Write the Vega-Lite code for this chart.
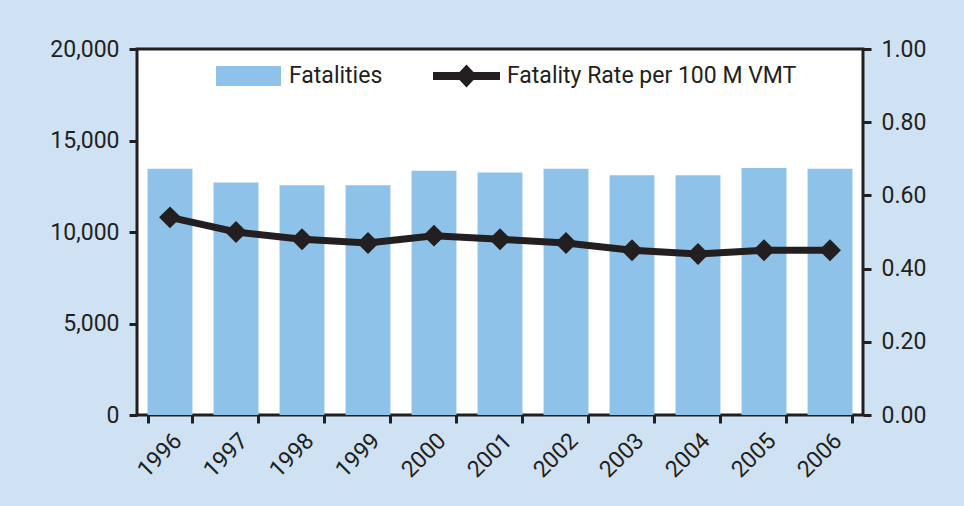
{
  "$schema": "https://vega.github.io/schema/vega-lite/v6.json",
  "width": 726,
  "height": 366,
  "autosize": "none",
  "padding": {"left": 137, "top": 49, "right": 101, "bottom": 91},
  "background": "#cfe2f3",
  "config": {
    "view": {"fill": "#ffffff", "stroke": "#231f20", "strokeWidth": 3},
    "font": "Roboto",
    "axis": {
      "labelFont": "Roboto",
      "labelFontSize": 23,
      "labelColor": "#231f20",
      "tickColor": "#231f20",
      "tickWidth": 3,
      "tickSize": 8,
      "domain": false,
      "grid": false,
      "title": null
    },
    "legend": {
      "labelFont": "Roboto",
      "labelFontSize": 23,
      "labelColor": "#231f20",
      "labelLimit": 600,
      "padding": 0
    }
  },
  "data": {
    "values": [
      {"year": "1996", "fatalities": 13450, "rate": 0.54},
      {"year": "1997", "fatalities": 12700, "rate": 0.50},
      {"year": "1998", "fatalities": 12550, "rate": 0.48},
      {"year": "1999", "fatalities": 12550, "rate": 0.47},
      {"year": "2000", "fatalities": 13350, "rate": 0.49},
      {"year": "2001", "fatalities": 13250, "rate": 0.48},
      {"year": "2002", "fatalities": 13450, "rate": 0.47},
      {"year": "2003", "fatalities": 13100, "rate": 0.45},
      {"year": "2004", "fatalities": 13100, "rate": 0.44},
      {"year": "2005", "fatalities": 13500, "rate": 0.45},
      {"year": "2006", "fatalities": 13450, "rate": 0.45}
    ]
  },
  "encoding": {
    "x": {
      "field": "year",
      "type": "ordinal",
      "scale": {"paddingInner": 0.32, "paddingOuter": 0.16},
      "axis": {
        "labelAngle": -45,
        "tickBand": "extent",
        "labelPadding": 6,
        "zindex": 1,
        "encode": {"ticks": {"update": {"y": {"value": -7}}}}
      }
    }
  },
  "layer": [
    {
      "mark": {"type": "bar"},
      "encoding": {
        "y": {
          "field": "fatalities",
          "type": "quantitative",
          "scale": {"domain": [0, 20000]},
          "axis": {"orient": "left", "values": [0, 5000, 10000, 15000, 20000], "format": ",.0f", "labelPadding": 10}
        },
        "fill": {
          "datum": "Fatalities",
          "type": "nominal",
          "scale": {"range": ["#8ec2e9"]},
          "legend": {
            "orient": "none",
            "legendX": 79,
            "legendY": -5.5,
            "title": null,
            "symbolType": "M-1,-0.31L1,-0.31L1,0.31L-1,0.31Z",
            "symbolSize": 4225,
            "symbolStrokeWidth": 0,
            "labelOffset": 8
          }
        }
      }
    },
    {
      "layer": [
        {
          "mark": {"type": "line", "strokeWidth": 7},
          "encoding": {
            "y": {
              "field": "rate",
              "type": "quantitative",
              "scale": {"domain": [0, 1]},
              "axis": {"orient": "right", "values": [0, 0.2, 0.4, 0.6, 0.8, 1.0], "format": ".2f", "labelPadding": 10}
            },
            "stroke": {
              "datum": "Fatality Rate per 100 M VMT",
              "type": "nominal",
              "scale": {"range": ["#231f20"]},
              "legend": {
                "orient": "none",
                "legendX": 296,
                "legendY": -6.5,
                "title": null,
                "symbolType": "M-1,-0.12L-0.21,-0.12L0,-0.34L0.21,-0.12L1,-0.12L1,0.12L0.21,0.12L0,0.34L-0.21,0.12L-1,0.12Z",
                "symbolSize": 4489,
                "labelOffset": 7,
                "encode": {"symbols": {"update": {"fill": {"value": "#231f20"}, "strokeWidth": {"value": 0}, "stroke": {"value": "#231f20"}}}}
              }
            }
          }
        },
        {
          "mark": {"type": "point", "shape": "diamond", "filled": true, "size": 480, "color": "#231f20", "opacity": 1},
          "encoding": {
            "y": {"field": "rate", "type": "quantitative"}
          }
        }
      ]
    }
  ],
  "resolve": {"scale": {"y": "independent"}}
}
